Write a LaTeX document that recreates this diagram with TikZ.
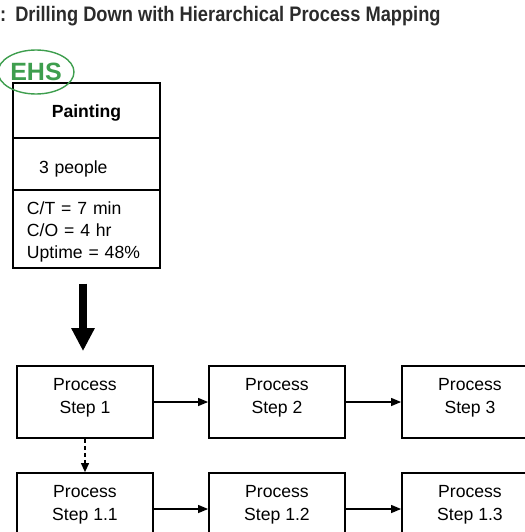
\documentclass[tikz,border=0pt]{standalone}
\usepackage{fontspec}
\setmainfont{Liberation Sans}
\newfontfamily\titlefont[FakeStretch=0.87]{Liberation Sans}
\usetikzlibrary{arrows.meta,shapes.geometric}
\definecolor{ehsgreen}{HTML}{3E9E4E}
\definecolor{titlegray}{HTML}{2B2B2B}
\tikzset{
  x=1pt, y=-1pt,
  txt/.style={font=\fontsize{17.6}{22}\selectfont},
  secbox/.style={draw, line width=1.4pt, minimum width=147pt, inner sep=0pt, txt},
  pbox/.style={draw, line width=1.8pt, minimum width=136pt, minimum height=72pt, inner sep=0pt, align=center, text depth=12pt, font=\fontsize{17.6}{23}\selectfont},
  flow/.style={line width=1.2pt, -{Triangle[length=10pt,width=8pt]}},
  dflow/.style={line width=1.2pt, dashed, dash pattern=on 4pt off 3pt, -{Triangle[length=9pt,width=8pt]}},
  bigarrow/.style={line width=8pt, -{Triangle[length=23pt,width=22pt]}},
}
\begin{document}
\begin{tikzpicture}
\useasboundingbox (0,0) rectangle (524,532);
\node[anchor=base west, font=\titlefont\bfseries\fontsize{21}{24}\selectfont, text=titlegray, inner sep=0pt] (title) at (0,22) {:\hspace{9pt}Drilling Down with Hierarchical Process Mapping};
% painting box
\node[secbox, minimum height=55pt, text height=17pt, text depth=3.7pt, font=\bfseries\fontsize{17.6}{22}\selectfont] (painting) at (86.5,110.5) {Painting};
\node[secbox, minimum height=52pt, text width=95pt, inner xsep=26pt, align=left, text height=23pt, text depth=3.7pt] (people) at (86.5,164) {3 people};
\node[secbox, minimum height=78pt, text width=119pt, inner xsep=14pt, align=left, text height=18.6pt] (stats) at (86.5,229) {C/T = 7 min\\C/O = 4 hr\\Uptime = 48\%};
% EHS
\node[ellipse, draw=ehsgreen, line width=1.4pt, minimum width=76pt, minimum height=44pt, inner sep=0pt, text=ehsgreen, font=\bfseries\fontsize{25}{25}\selectfont] (ehs) at (36,72) {EHS};
% process boxes
\node[pbox] (p1) at (85,402) {Process\\Step 1};
\node[pbox] (p2) at (277,402) {Process\\Step 2};
\node[pbox] (p3) at (470,402) {Process\\Step 3};
\node[pbox] (p11) at (85,509) {Process\\Step 1.1};
\node[pbox] (p12) at (277,509) {Process\\Step 1.2};
\node[pbox] (p13) at (470,509) {Process\\Step 1.3};
% connectors
\draw[bigarrow, shorten <=15pt, shorten >=14pt] ([xshift=-2pt]p1.north |- stats.south) -- ([xshift=-2pt]p1.north);
\draw[flow] (p1) -- (p2);
\draw[flow] (p2) -- (p3);
\draw[flow] (p11) -- (p12);
\draw[flow] (p12) -- (p13);
\draw[dflow] (p1) -- (p11);
\end{tikzpicture}
\end{document}
